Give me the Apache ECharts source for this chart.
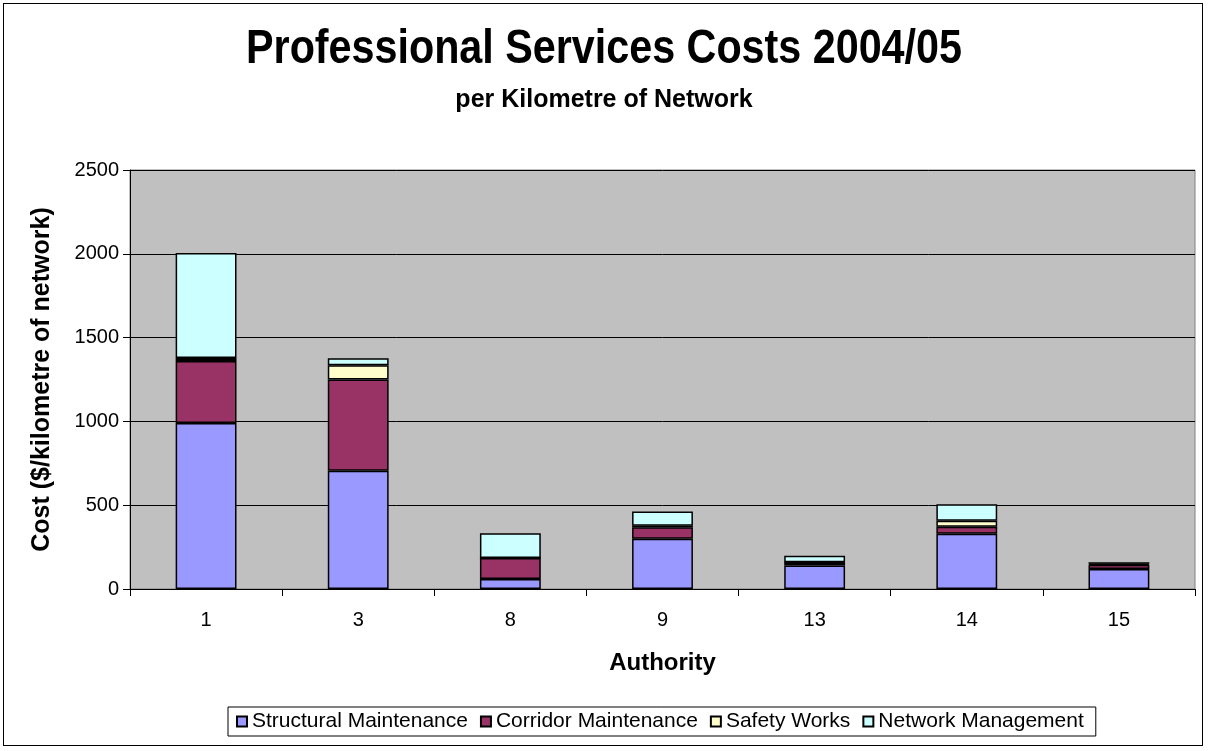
<!DOCTYPE html>
<html>
<head>
<meta charset="utf-8">
<script src="https://cdn.jsdelivr.net/npm/echarts@6/dist/echarts.min.js"></script>
<style>
  html, body { margin: 0; padding: 0; background: #fff; }
  #frame { position: absolute; left: 3px; top: 3px; width: 1200px; height: 743px; border: 1px solid #000; box-sizing: border-box; }
  #chart { width: 1208px; height: 751px; position: absolute; left: 0; top: 0; }
</style>
</head>
<body>
<div id="frame"></div>
<div id="chart"></div>
<script>
// Authorities shown on the category axis
const authorities = ['1', '3', '8', '9', '13', '14', '15'];

// Cost components per kilometre of network ($/km)
const structuralMaintenance = [990, 705, 60, 300, 140, 330, 120];
const corridorMaintenance   = [370, 545, 125, 68, 18, 42, 25];
const safetyWorks           = [18, 85, 0, 10, 2, 35, 5];
const networkManagement     = [627, 42, 148, 85, 38, 98, 10];

const yTicks = { min: 0, max: 2500, interval: 500 };

const seriesNames = ['Structural Maintenance', 'Corridor Maintenance', 'Safety Works', 'Network Management'];
const seriesColors = ['#9999FF', '#993366', '#FFFFCC', '#CCFFFF'];
const seriesData = [structuralMaintenance, corridorMaintenance, safetyWorks, networkManagement];

const font = 'Liberation Sans, Arial, sans-serif';

const chart = echarts.init(document.getElementById('chart'), null, { renderer: 'canvas' });

chart.setOption({
  animation: false,
  textStyle: { fontFamily: font },
  // Main heading, drawn a little condensed
  graphic: [{
    type: 'text',
    x: 604,
    y: 26,
    scaleX: 0.86,
    originX: 0,
    style: {
      text: 'Professional Services Costs 2004/05',
      font: 'bold 48px ' + font,
      fill: '#000',
      textAlign: 'center',
      textVerticalAlign: 'top'
    }
  }],
  title: {
    text: 'per Kilometre of Network',
    left: 'center',
    top: 83,
    textStyle: { fontFamily: font, fontSize: 25, fontWeight: 'bold', color: '#000' }
  },
  legend: {
    data: seriesNames,
    bottom: 15,
    left: 228,
    orient: 'horizontal',
    itemWidth: 10,
    itemHeight: 10,
    itemGap: 12,
    icon: 'rect',
    padding: [4, 12, 4, 8],
    borderColor: '#000',
    borderWidth: 1,
    textStyle: { fontFamily: font, fontSize: 21, color: '#000', padding: [0, 0, 0, 0] }
  },
  grid: {
    left: 130,
    right: 13,
    top: 170,
    bottom: 162,
    show: true,
    backgroundColor: '#C0C0C0',
    borderColor: '#808080',
    borderWidth: 1
  },
  xAxis: {
    type: 'category',
    data: authorities,
    name: 'Authority',
    nameLocation: 'middle',
    nameGap: 62,
    nameTextStyle: { fontFamily: font, fontSize: 24, fontWeight: 'bold', color: '#000' },
    axisLine: { lineStyle: { color: '#000', width: 1 } },
    axisTick: { show: true, alignWithLabel: false, length: 7, lineStyle: { color: '#000' } },
    axisLabel: { fontFamily: font, fontSize: 20, color: '#000', margin: 21 }
  },
  yAxis: {
    type: 'value',
    min: yTicks.min,
    max: yTicks.max,
    interval: yTicks.interval,
    name: 'Cost ($/kilometre of network)',
    nameLocation: 'middle',
    nameGap: 75,
    nameRotate: 90,
    nameTextStyle: { fontFamily: font, fontSize: 25, fontWeight: 'bold', color: '#000' },
    axisLine: { show: true, lineStyle: { color: '#000', width: 1 } },
    axisTick: { show: true, length: 7, lineStyle: { color: '#000' } },
    axisLabel: { fontFamily: font, fontSize: 20, color: '#000', margin: 11, formatter: v => String(v) },
    splitLine: { show: true, lineStyle: { color: '#000', width: 1 } }
  },
  series: seriesNames.map((name, i) => ({
    name: name,
    type: 'bar',
    stack: 'cost',
    data: seriesData[i],
    barWidth: '40%',
    itemStyle: { color: seriesColors[i], borderColor: '#000', borderWidth: 1.5 }
  }))
});
</script>
</body>
</html>
